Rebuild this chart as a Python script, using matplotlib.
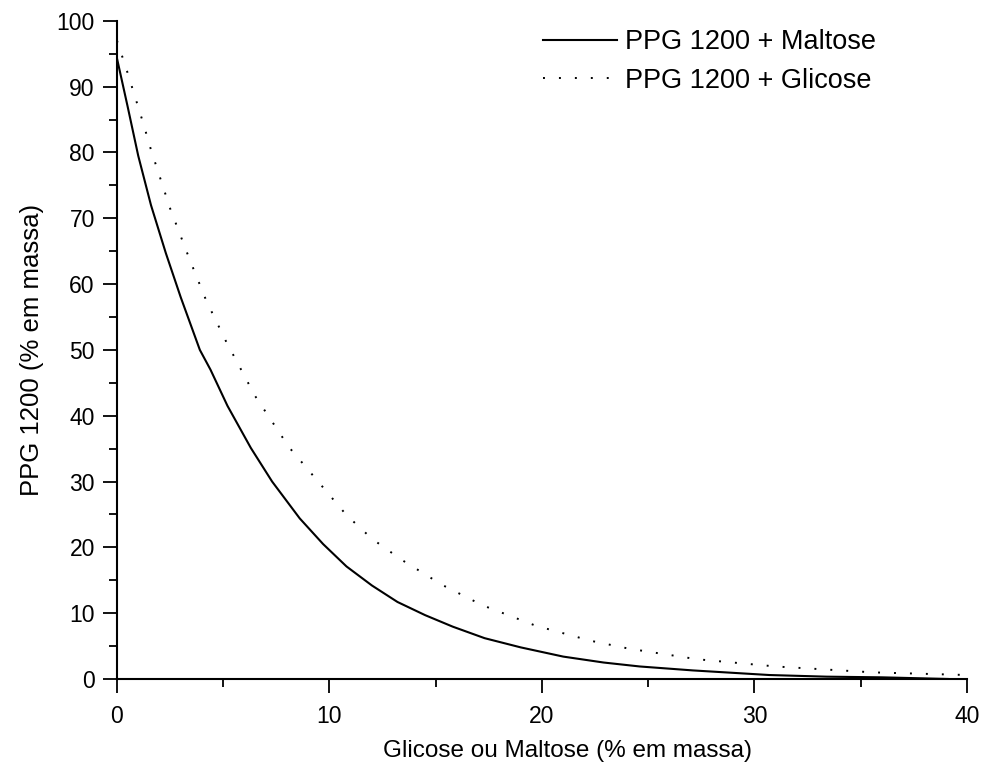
import matplotlib
matplotlib.use('Agg')
import matplotlib.pyplot as plt
from matplotlib.ticker import MultipleLocator

plt.rcParams['font.family'] = ['Liberation Sans', 'DejaVu Sans']

# PPG 1200 + Maltose curve
maltose_x = [0, 0.5, 1.0, 1.6, 2.3, 3.0, 3.9, 4.4, 5.2, 6.3, 7.3, 8.6, 9.7,
             10.8, 12.0, 13.2, 14.5, 15.8, 17.3, 19.0, 21.0, 22.9, 24.6,
             27.1, 30.7, 33.4, 36.0, 39.1]
maltose_y = [94.3, 87.0, 79.5, 72.0, 64.7, 58.0, 50.0, 47.0, 41.5, 35.1, 30.0,
             24.4, 20.5, 17.1, 14.2, 11.7, 9.7, 7.95, 6.2, 4.8, 3.4, 2.5, 1.9,
             1.3, 0.6, 0.35, 0.25, 0.0]

# PPG 1200 + Glicose curve
glicose_x = [0, 0.46, 1.24, 1.6, 2.5, 3.4, 4.2, 5.1, 6.5, 8.1, 8.6, 10.8,
             12.0, 13.4, 15.3, 17.2, 19.7, 22.3, 24.1, 27.3, 31.0, 35.6, 40.0]
glicose_y = [97.0, 92.5, 84.4, 80.4, 71.5, 63.9, 57.5, 51.5, 43.0, 35.2, 33.3,
             24.9, 21.3, 18.1, 14.3, 11.2, 8.1, 5.8, 4.6, 3.0, 1.9, 1.0, 0.6]

fig = plt.figure(figsize=(9.83, 7.72), dpi=100)
ax = fig.add_axes([0.119, 0.1205, 0.8647, 0.8525])

ax.plot(maltose_x, maltose_y, color='black', lw=1.5, label='PPG 1200 + Maltose')
ax.plot(glicose_x, glicose_y, color='black', lw=1.4, linestyle=(0, (1, 7.2)),
        label='PPG 1200 + Glicose')

ax.set_xlim(0, 40)
ax.set_ylim(0, 100)
ax.xaxis.set_major_locator(MultipleLocator(10))
ax.xaxis.set_minor_locator(MultipleLocator(5))
ax.yaxis.set_major_locator(MultipleLocator(10))
ax.yaxis.set_minor_locator(MultipleLocator(5))

for s in ['top', 'right']:
    ax.spines[s].set_visible(False)
for s in ['left', 'bottom']:
    ax.spines[s].set_linewidth(1.5)

ax.tick_params(which='major', length=10, width=1.3, labelsize=16.5, direction='out')
ax.tick_params(which='minor', length=5.5, width=1.3, direction='out')
ax.tick_params(axis='x', which='major', pad=9)
ax.tick_params(axis='y', which='major', pad=6)

ax.set_xlabel('Glicose ou Maltose (% em massa)', fontsize=17.5)
ax.xaxis.set_label_coords(0.53, -0.092)
ax.set_ylabel('PPG 1200 (% em massa)', fontsize=18.5, labelpad=9)

ax.legend(loc='upper left', bbox_to_anchor=(0.552, 0.962),
          bbox_transform=fig.transFigure, frameon=False, borderpad=0,
          borderaxespad=0, fontsize=19.5, handlelength=2.75, handletextpad=0.3,
          labelspacing=0.45)

fig.savefig('out.png', dpi=100)
